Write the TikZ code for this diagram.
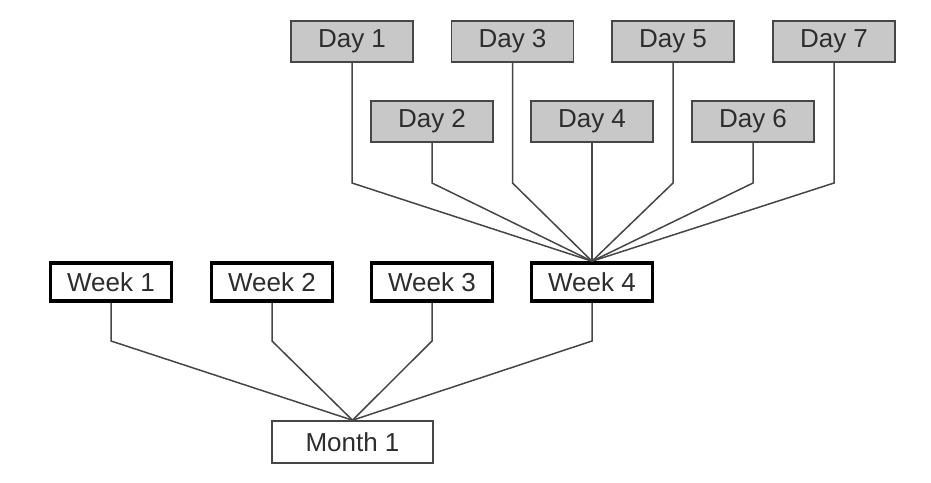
\documentclass[tikz,border=0pt]{standalone}
\usepackage{fontspec}
\setmainfont{Liberation Sans}
\usepackage{tikz}
\usetikzlibrary{positioning, calc}
\definecolor{daygray}{RGB}{200, 200, 200}
\definecolor{edgegray}{RGB}{70, 70, 70}
\definecolor{textgray}{RGB}{45, 45, 45}

\begin{document}
\begin{tikzpicture}[x=1pt, y=-1pt,
  day/.style={draw=edgegray, line width=1.6pt, fill=daygray, minimum width=122pt,
              minimum height=41pt, inner sep=0pt, text=textgray,
              font=\fontsize{26}{28}\selectfont},
  week/.style={draw=black, line width=3.6pt, fill=white, minimum width=121pt,
               minimum height=38pt, inner sep=0pt, text=textgray,
               font=\fontsize{26}{28}\selectfont},
  month/.style={draw=edgegray, line width=1.6pt, fill=white, minimum width=161pt,
                minimum height=42pt, inner sep=0pt, text=textgray,
                font=\fontsize{26}{28}\selectfont},
  link/.style={draw=edgegray, line width=1.5pt},
]
\useasboundingbox (0,0) rectangle (931,482);

% Bend levels of the connectors
\coordinate (daybend) at (0, 183);
\coordinate (weekbend) at (0, 341);

% Days, top row
\node[day] (d1) at (352, 41.5) {Day 1};
\node[day] (d3) at (512.5, 41.5) {Day 3};
\node[day] (d5) at (673, 41.5) {Day 5};
\node[day] (d7) at (834, 41.5) {Day 7};

% Days, second row
\node[day] (d2) at (432, 121.5) {Day 2};
\node[day] (d4) at (592, 121.5) {Day 4};
\node[day] (d6) at (753, 121.5) {Day 6};

% Weeks
\node[week] (w1) at (111, 282) {Week 1};
\node[week] (w2) at (272, 282) {Week 2};
\node[week] (w3) at (432, 282) {Week 3};
\node[week] (w4) at (592, 282) {Week 4};

% Month
\node[month] (m1) at (352.5, 442) {Month 1};

% Days to week 4
\foreach \d in {d1, d2, d3, d5, d6, d7}
  \draw[link] (\d.south) -- (\d.south |- daybend) -- (w4.north);
\draw[link] (d4.south) -- (w4.north);

% Weeks to month 1
\foreach \w in {w1, w2, w3, w4}
  \draw[link] (\w.south) -- (\w.south |- weekbend) -- (m1.north);
\end{tikzpicture}
\end{document}
